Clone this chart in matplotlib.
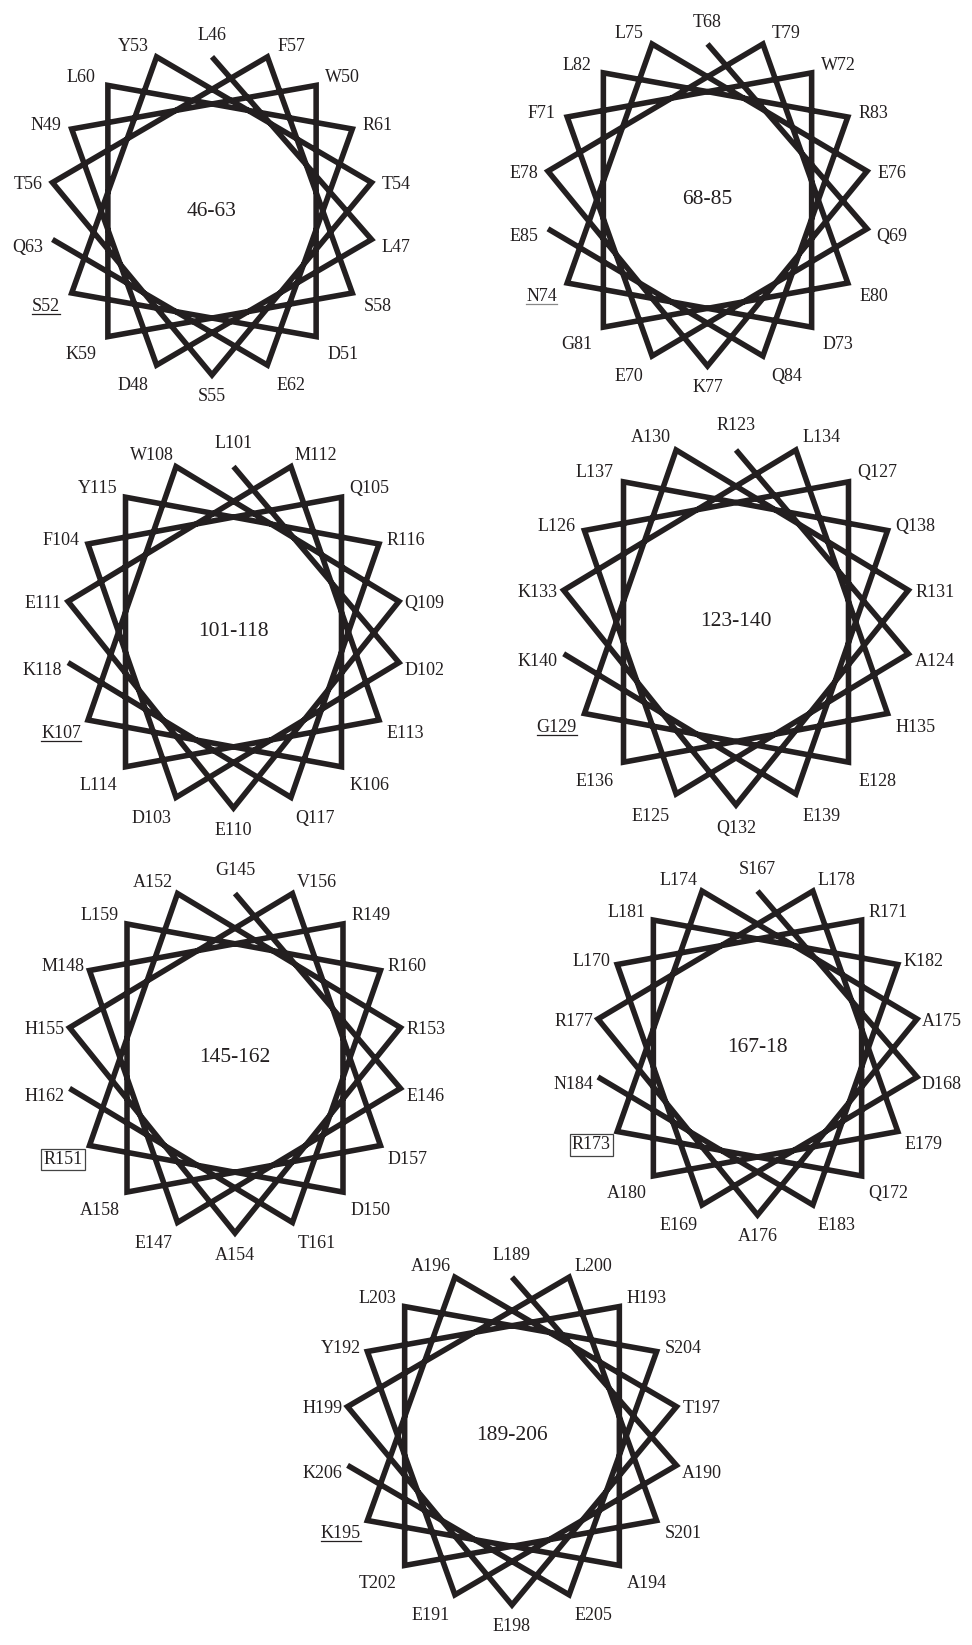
import numpy as np
import matplotlib
matplotlib.use("Agg")
import matplotlib.pyplot as plt

# helical wheel data: first residue number and one-letter sequence of each 18-residue segment
starts = [46, 68, 101, 123, 145, 167, 189]
seqs = [
    "LLDNWDSYTSTFSKLREQ",
    "TQEFWDNLEKETEGLRQE",
    "LDDFQKKWQEEMELYRQK",
    "RAELQEGARQKLHELQEK",
    "GEEMRDRARAHVDALRTH",
    "SDELRQRLAARLEALKEN",
    "LAEYHAKATEHLSTLSEK",
]
titles = ["46-63", "68-85", "101-118", "123-140", "145-162", "167-18", "189-206"]
underlined = [52, 74, 107, 129, 195]
grey_underline = [74]
boxed = [151, 173]

# layout (pixels): wheel centres and radii
centers = [(212, 211), (707.5, 200), (233.5, 632), (736, 622),
           (235, 1058), (757.5, 1048), (512, 1436)]
radii = [(162, 164), (162, 166), (168, 176), (175, 183),
         (168, 175), (162, 167), (167, 169)]

plt.rcParams['font.family'] = ['Liberation Serif', 'DejaVu Serif']

fig = plt.figure(figsize=(9.72, 16.45), dpi=100)
ax = fig.add_axes([0, 0, 1, 1])
ax.set_xlim(0, 972)
ax.set_ylim(1645, 0)
ax.axis('off')

line_col = '#231f20'
marks = []
for start, seq, title, (cx, cy), (rx, ry) in zip(starts, seqs, titles, centers, radii):
    n = len(seq)
    ang = np.radians(90 - 100 * np.arange(n))  # 100 degrees per residue
    c, s = np.cos(ang), np.sin(ang)
    xs = cx + rx * c
    ys = cy - ry * s
    # first residue is drawn a little inside the rim
    xs[0] = cx + 0.94 * rx * c[0]
    ys[0] = cy - 0.94 * ry * s[0]
    ax.plot(xs, ys, color=line_col, lw=4.0, solid_joinstyle='miter',
            solid_capstyle='butt')
    ax.text(cx, cy, title, fontsize=15.5, ha='center', va='center', color='#231f20')
    for i in range(n):
        num = start + i
        lx = cx + 1.15 * rx * np.sign(c[i]) * abs(c[i]) ** 0.8
        ly = cy - 1.10 * ry * s[i] + 5
        kw = {}
        if num in boxed:
            kw['bbox'] = dict(boxstyle='square,pad=0.12', fc='none', ec='#444444', lw=0.9)
        t = ax.text(lx, ly, f"{seq[i]}{num}", fontsize=13, ha='center', va='center',
                    color='#231f20', **kw)
        if num in underlined:
            marks.append((t, '#888888' if num in grey_underline else '#231f20'))

# underline the marked residues
fig.canvas.draw()
r = fig.canvas.get_renderer()
inv = ax.transData.inverted()
for t, col in marks:
    bb = t.get_window_extent(renderer=r)
    (x0, y0), (x1, y1) = inv.transform([(bb.x0, bb.y0), (bb.x1, bb.y1)])
    ax.plot([x0, x1], [y0 - 1, y0 - 1], color=col, lw=0.9)

fig.savefig('out.png', dpi=100)
